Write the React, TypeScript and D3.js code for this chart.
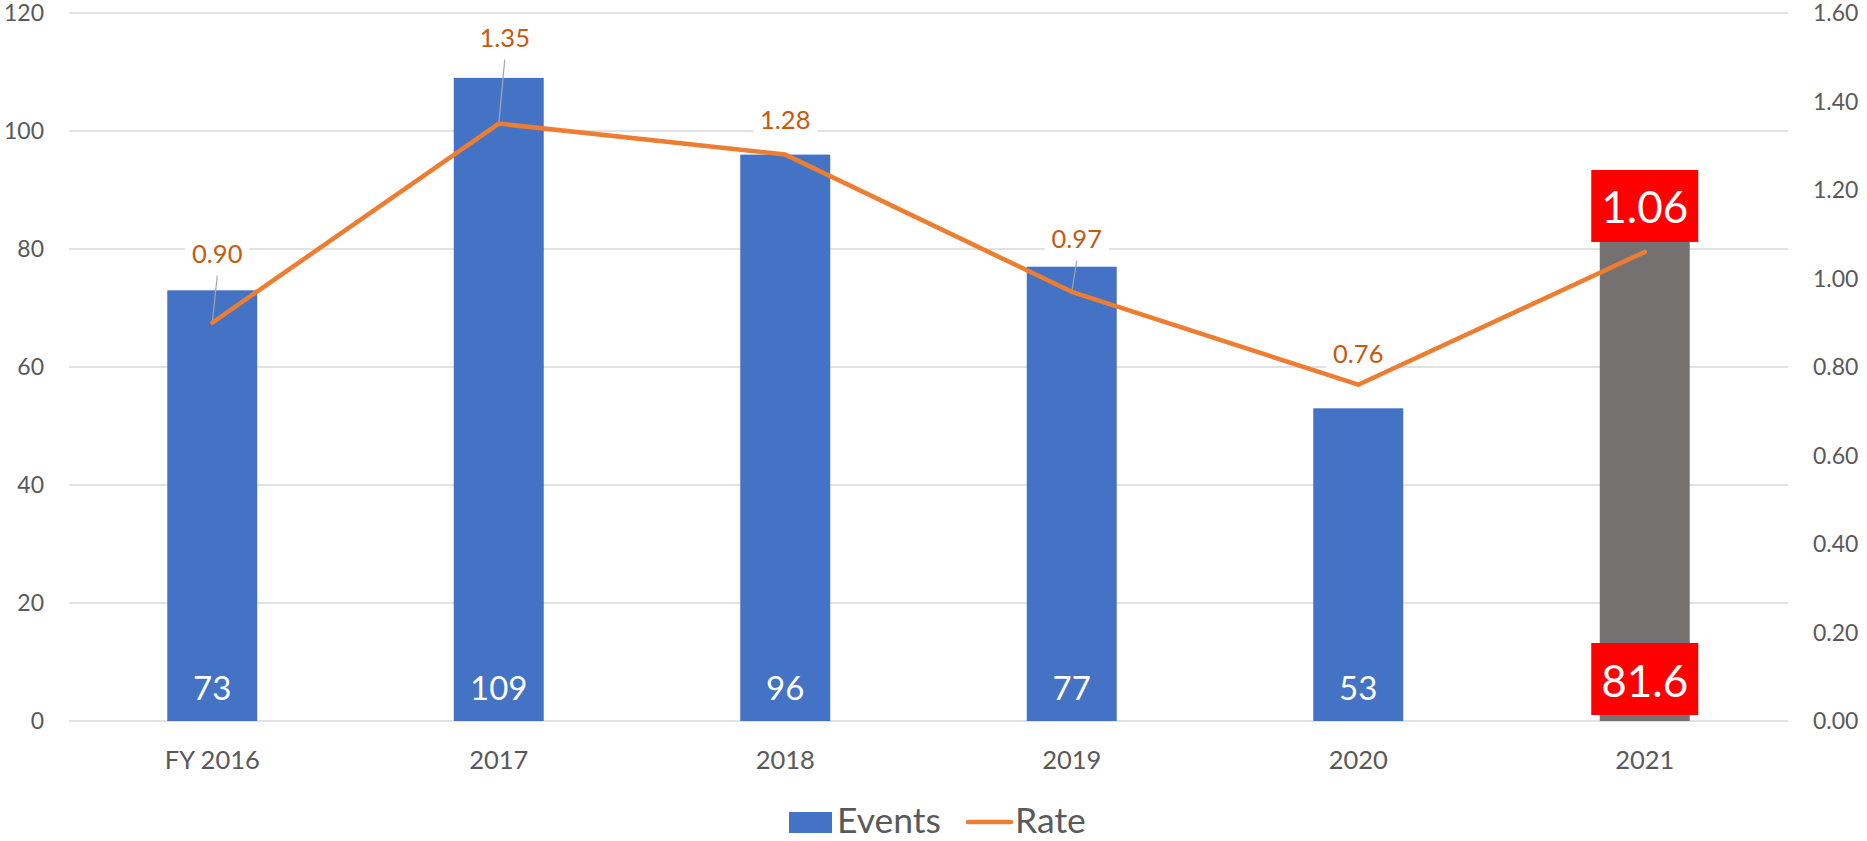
import { useEffect, useRef } from 'react';
import * as d3 from 'd3';

const categories = ['FY 2016', '2017', '2018', '2019', '2020', '2021'];
const events = [73, 109, 96, 77, 53, 81.6];
const rates = [0.9, 1.35, 1.28, 0.97, 0.76, 1.06];
const eventLabels = ['73', '109', '96', '77', '53', '81.6'];
const rateLabels = ['0.90', '1.35', '1.28', '0.97', '0.76', '1.06'];
const leftTicks = [0, 20, 40, 60, 80, 100, 120];
const rightTicks = [0, 0.2, 0.4, 0.6, 0.8, 1.0, 1.2, 1.4, 1.6];

// where Excel placed the rate labels, relative to the point (dx, baseline dy, leader line?)
const rateLabelPos = [
  { dx: 5, dy: -60, leader: true },
  { dx: 6, dy: -77, leader: true },
  { dx: 0, dy: -26, leader: false },
  { dx: 5, dy: -44, leader: true },
  { dx: 0, dy: -22, leader: false },
  { dx: 0, dy: -29, leader: false },
];

const W = 1867;
const H = 841;
const FONT = 'Lato, "Open Sans", sans-serif';

export default function App() {
  const svgRef = useRef<SVGSVGElement>(null);

  useEffect(() => {
    if (!svgRef.current) return;
    const svg = d3.select(svgRef.current);
    svg.selectAll('*').remove();

    const margin = { top: 13, right: 79, bottom: 120, left: 69 };
    const innerW = W - margin.left - margin.right;
    const innerH = H - margin.top - margin.bottom;

    const g = svg.append('g').attr('transform', `translate(${margin.left},${margin.top})`);

    const x = d3.scaleBand<string>().domain(categories).range([0, innerW]).padding(0);
    const y = d3.scaleLinear().domain([0, 120]).range([innerH, 0]);
    const y2 = d3.scaleLinear().domain([0, 1.6]).range([innerH, 0]);
    const barW = x.bandwidth() * 0.314;
    const cx = (i: number) => (x(categories[i]) as number) + x.bandwidth() / 2;

    // Grid lines
    g.selectAll('.grid')
      .data(leftTicks)
      .join('line')
      .attr('x1', 0)
      .attr('x2', innerW)
      .attr('y1', d => y(d))
      .attr('y2', d => y(d))
      .attr('stroke', '#d9d9d9')
      .attr('stroke-width', 1.5);

    // Left axis labels
    g.selectAll('.lt')
      .data(leftTicks)
      .join('text')
      .attr('x', -25)
      .attr('y', d => y(d) + 8)
      .attr('text-anchor', 'end')
      .attr('fill', '#595959')
      .attr('font-family', FONT)
      .attr('font-size', 23)
      .text(d => d);

    // Right axis labels
    g.selectAll('.rt')
      .data(rightTicks)
      .join('text')
      .attr('x', innerW + 25)
      .attr('y', d => y2(d) + 8)
      .attr('text-anchor', 'start')
      .attr('fill', '#595959')
      .attr('font-family', FONT)
      .attr('font-size', 23)
      .text(d => d.toFixed(2));

    // Category labels
    g.selectAll('.xl')
      .data(categories)
      .join('text')
      .attr('x', (d, i) => cx(i))
      .attr('y', innerH + 48)
      .attr('text-anchor', 'middle')
      .attr('fill', '#595959')
      .attr('font-family', FONT)
      .attr('font-size', 25.5)
      .text(d => d);

    // Bars
    g.selectAll('.bar')
      .data(events)
      .join('rect')
      .attr('x', (d, i) => cx(i) - barW / 2)
      .attr('width', barW)
      .attr('y', d => y(d))
      .attr('height', d => innerH - y(d))
      .attr('fill', (d, i) => (i === events.length - 1 ? '#767171' : '#4472C4'));

    // Bar value labels
    events.forEach((v, i) => {
      const last = i === events.length - 1;
      if (last) {
        g.append('rect')
          .attr('x', cx(i) - 53.5)
          .attr('y', innerH - 78)
          .attr('width', 107)
          .attr('height', 72)
          .attr('fill', '#FF0000');
      }
      g.append('text')
        .attr('x', cx(i))
        .attr('y', last ? innerH - 24 : innerH - 21)
        .attr('text-anchor', 'middle')
        .attr('fill', '#ffffff')
        .attr('font-family', FONT)
        .attr('font-size', last ? 44 : 33)
        .text(eventLabels[i]);
    });

    // label backgrounds and leaders go under the line, label text above it
    const under = g.append('g');
    const lineLayer = g.append('g');
    const over = g.append('g');

    // Rate line
    const line = d3.line<number>()
      .x((d, i) => cx(i))
      .y(d => y2(d));
    lineLayer.append('path')
      .datum(rates)
      .attr('d', line)
      .attr('fill', 'none')
      .attr('stroke', '#ED7D31')
      .attr('stroke-width', 4.5)
      .attr('stroke-linecap', 'round')
      .attr('stroke-linejoin', 'round');

    // Rate labels
    rates.forEach((v, i) => {
      const px = cx(i);
      const py = y2(v);
      const pos = rateLabelPos[i];
      const last = i === rates.length - 1;
      if (last) {
        over.append('rect')
          .attr('x', px - 53.5)
          .attr('y', py - 82)
          .attr('width', 107)
          .attr('height', 72)
          .attr('fill', '#FF0000');
        over.append('text')
          .attr('x', px)
          .attr('y', py + pos.dy)
          .attr('text-anchor', 'middle')
          .attr('fill', '#ffffff')
          .attr('font-family', FONT)
          .attr('font-size', 44)
          .text(rateLabels[i]);
        return;
      }
      const bg = under.append('rect').attr('fill', '#ffffff');
      if (pos.leader) {
        under.append('line')
          .attr('x1', px + pos.dx)
          .attr('y1', py + pos.dy + 13)
          .attr('x2', px)
          .attr('y2', py)
          .attr('stroke', '#a6a6a6')
          .attr('stroke-width', 1.2);
      }
      const t = over.append('text')
        .attr('x', px + pos.dx)
        .attr('y', py + pos.dy)
        .attr('text-anchor', 'middle')
        .attr('fill', '#C55A11')
        .attr('font-family', FONT)
        .attr('font-size', 25.5)
        .text(rateLabels[i]);
      const tw = (t.node() as SVGTextElement).getComputedTextLength();
      bg.attr('x', px + pos.dx - tw / 2 - 7)
        .attr('y', py + pos.dy - 27)
        .attr('width', tw + 14)
        .attr('height', 37);
    });

    // Legend
    const leg = svg.append('g');
    leg.append('rect')
      .attr('x', 789)
      .attr('y', 812)
      .attr('width', 43)
      .attr('height', 21)
      .attr('fill', '#4472C4');
    leg.append('text')
      .attr('x', 837)
      .attr('y', 833)
      .attr('fill', '#595959')
      .attr('font-family', FONT)
      .attr('font-size', 35.5)
      .text('Events');
    leg.append('line')
      .attr('x1', 968)
      .attr('x2', 1011)
      .attr('y1', 822)
      .attr('y2', 822)
      .attr('stroke', '#ED7D31')
      .attr('stroke-width', 4.5)
      .attr('stroke-linecap', 'round');
    leg.append('text')
      .attr('x', 1015)
      .attr('y', 833)
      .attr('fill', '#595959')
      .attr('font-family', FONT)
      .attr('font-size', 35.5)
      .text('Rate');
  }, []);

  return (
    <svg
      ref={svgRef}
      width={W}
      height={H}
      style={{ position: 'absolute', left: 0, top: 0, background: '#ffffff' }}
    />
  );
}
